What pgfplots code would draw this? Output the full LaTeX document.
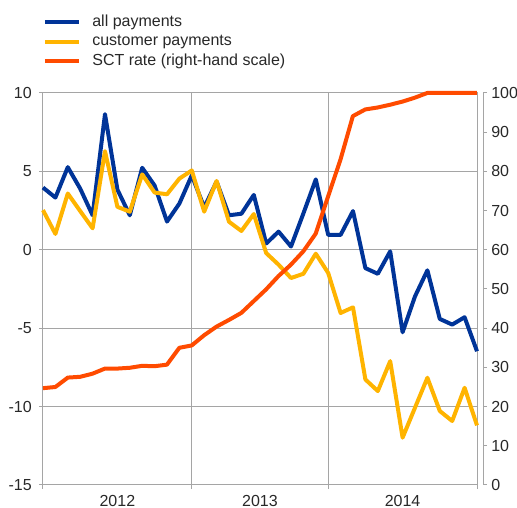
\documentclass[border=0pt]{standalone}
\usepackage{pgfplots}
\pgfplotsset{compat=1.18}
\usepackage{fontspec}
\setmainfont{Liberation Sans}
\definecolor{cblue}{RGB}{0,52,152}
\definecolor{cyellow}{RGB}{255,180,0}
\definecolor{corange}{RGB}{255,75,0}
\definecolor{gridc}{RGB}{165,165,165}
\definecolor{txt}{RGB}{40,40,40}
\begin{document}
\begin{tikzpicture}
\pgfplotsset{
  base/.style={height=294pt,scale only axis,xmin=0,
    /pgf/number format/assume math mode=true,
    tick label style={font=\fontsize{12}{14}\selectfont, text=txt, inner sep=0pt},
    tick style={gridc, line width=0.75pt},
    major tick length=3pt,
    tick align=outside,
    axis line style={gridc, line width=0.75pt},
  }
}
\begin{axis}[base, width=325.5pt, xmax=35,
  ymin=-15,ymax=10,ytick={-15,-10,...,10},
  xtick={0,12,23,35}, xticklabels={},
  extra x ticks={6,17.5,29}, extra x tick labels={2012,2013,2014},
  extra x tick style={major tick length=0pt, grid=none},
  yticklabel style={xshift=-5.25pt},
  xticklabel style={yshift=-7.3pt},
  grid=major, grid style={gridc, line width=0.75pt},
  xtick pos=bottom, ytick pos=left,
  clip=false,
  legend cell align=left,
  legend style={at={(rel axis cs:0,1.198)}, anchor=north west, draw=none, fill=none,
    inner sep=0pt, outer sep=0pt, row sep=4.8pt, column sep=8.5pt,
    font=\fontsize{12}{14}\selectfont, text=txt, nodes={inner sep=0pt}},
  legend image code/.code={\draw[#1] (0pt,0pt) -- (25.5pt,0pt);},
]
\coordinate (bbsw) at (rel axis cs:-0.09908,-0.05867);
\coordinate (bbne) at (rel axis cs:1.09217,1.23724);
\addplot[cblue, line width=3pt, line join=round] coordinates {
(0,3.97) (1,3.33) (2,5.27) (3,3.9) (4,2.2) (5,8.65) (6,3.84) (7,2.2) (8,5.23) (9,4.1)
(10,1.8) (11,2.95) (12,4.75) (13,2.7) (14,4.35) (15,2.2) (16,2.3) (17,3.5) (18,0.4) (19,1.16)
(20,0.21) (21,2.32) (22,4.49) (23,0.95) (24,0.95) (25,2.47) (26,-1.17) (27,-1.53) (28,-0.1) (29,-5.26)
(30,-2.97) (31,-1.31) (32,-4.41) (33,-4.77) (34,-4.3) (35,-6.47)};
\addlegendentry{all payments}
\addplot[cyellow, line width=3pt, line join=round] coordinates {
(0,2.53) (1,1.01) (2,3.59) (3,2.47) (4,1.37) (5,6.29) (6,2.74) (7,2.43) (8,4.81) (9,3.65)
(10,3.54) (11,4.54) (12,5.06) (13,2.43) (14,4.39) (15,1.79) (16,1.2) (17,2.28) (18,-0.21) (19,-0.95)
(20,-1.8) (21,-1.53) (22,-0.25) (23,-1.48) (24,-4.03) (25,-3.67) (26,-8.27) (27,-9.01) (28,-7.1) (29,-11.98)
(30,-10.07) (31,-8.16) (32,-10.28) (33,-10.92) (34,-8.8) (35,-11.2)};
\addlegendentry{customer payments}
\addlegendimage{corange, line width=3pt}
\addlegendentry{SCT rate (right-hand scale)}
\end{axis}
\begin{axis}[base, width=330pt, xmax=35.5,
  ymin=0,ymax=100,ytick={0,10,...,100},
  axis y line*=right, axis x line=none,
  ytick pos=right,
  yticklabel style={xshift=3pt},
  clip=false,
]
\addplot[corange, line width=3pt, line join=round] coordinates {
(0,24.7) (1,25.0) (2,27.4) (3,27.6) (4,28.4) (5,29.7) (6,29.7) (7,29.9) (8,30.4) (9,30.3)
(10,30.7) (11,35.0) (12,35.6) (13,38.2) (14,40.4) (15,42.1) (16,43.9) (17,46.9) (18,49.9) (19,53.3)
(20,56.2) (21,59.6) (22,64.1) (23,73.6) (24,83.0) (25,94.1) (26,95.8) (27,96.3) (28,97.0) (29,97.8)
(30,98.8) (31,100) (32,100) (33,100) (34,100) (35,100)};
\end{axis}
\pgfresetboundingbox
\path[use as bounding box] (bbsw) rectangle (bbne);
\end{tikzpicture}
\end{document}
